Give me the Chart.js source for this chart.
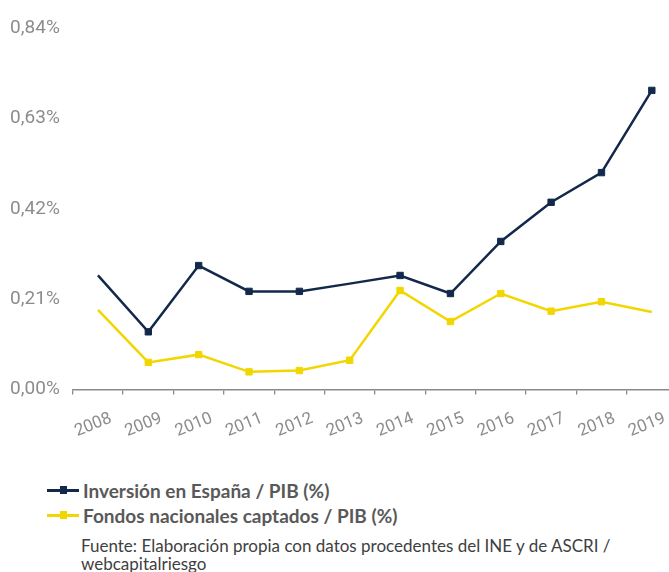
<!DOCTYPE html>
<html>
<head>
<meta charset="utf-8">
<script src="https://cdn.jsdelivr.net/npm/chart.js@4.4.1/dist/chart.umd.min.js"></script>
<style>
    body { margin: 0; width: 669px; height: 572px; overflow: hidden; background: #fff; position: relative; }
    #wrap { position: absolute; left: 0; top: 0; width: 700px; height: 470px; }
    .legend-row { position: absolute; left: 47px; height: 20px; display: flex; align-items: center;
        font-family: Lato, 'Noto Sans', sans-serif; font-weight: bold; font-size: 19px; color: #595959; white-space: nowrap; }
    .swatch { position: relative; width: 32px; height: 3px; margin-right: 4px; }
    .swatch i { position: absolute; left: 12.5px; top: -2.5px; width: 7px; height: 8px; }
    .source { position: absolute; left: 81px; top: 537px; font-family: Lato, 'Noto Sans', sans-serif;
        font-size: 17px; line-height: 18px; color: #404040; white-space: nowrap; }
</style>
</head>
<body>
<div id="wrap"><canvas id="pibChart" width="700" height="470"></canvas></div>

<div class="legend-row" style="top:480px"><span class="swatch" style="background:#13294b"><i style="background:#13294b"></i></span>Inversión en España / PIB (%)</div>
<div class="legend-row" style="top:505px"><span class="swatch" style="background:#f2d600"><i style="background:#f2d600"></i></span>Fondos nacionales captados / PIB (%)</div>
<div class="source">Fuente: Elaboración propia con datos procedentes del INE y de ASCRI /<br>webcapitalriesgo</div>

<script>
// --- Data ---
const years = ['2008', '2009', '2010', '2011', '2012', '2013', '2014', '2015', '2016', '2017', '2018', '2019'];
const inversionPib = [0.265, 0.134, 0.288, 0.228, 0.228, 0.246, 0.265, 0.223, 0.344, 0.435, 0.504, 0.695];
const fondosPib = [0.185, 0.063, 0.081, 0.041, 0.044, 0.068, 0.230, 0.158, 0.223, 0.182, 0.204, 0.180];
const yTicks = [0, 0.21, 0.42, 0.63, 0.84];

// points drawn without a marker in the original
const inversionNoMarker = [0, 5];
const fondosNoMarker = [0, 11];

const colorNavy = '#13294b';
const colorYellow = '#f2d600';
const labelFont = "Roboto, 'Liberation Sans', sans-serif";

const ctx = document.getElementById('pibChart').getContext('2d');

new Chart(ctx, {
    type: 'line',
    data: {
        labels: years,
        datasets: [
            {
                label: 'Inversión en España / PIB (%)',
                data: inversionPib,
                borderColor: colorNavy,
                backgroundColor: colorNavy,
                borderWidth: 2.5,
                tension: 0,
                pointStyle: 'rect',
                pointRadius: c => inversionNoMarker.includes(c.dataIndex) ? 0 : 4.5,
                pointBorderWidth: 1
            },
            {
                label: 'Fondos nacionales captados / PIB (%)',
                data: fondosPib,
                borderColor: colorYellow,
                backgroundColor: colorYellow,
                borderWidth: 2.5,
                tension: 0,
                pointStyle: 'rect',
                pointRadius: c => fondosNoMarker.includes(c.dataIndex) ? 0 : 4.5,
                pointBorderWidth: 1
            }
        ]
    },
    options: {
        responsive: false,
        animation: false,
        devicePixelRatio: 1,
        layout: { padding: { left: 0, top: 28, right: 23, bottom: 0 } },
        scales: {
            x: {
                offset: true,
                grid: { offset: true, drawOnChartArea: false, drawTicks: true, tickLength: 5, color: '#8a8a8a', lineWidth: 1.3 },
                border: { display: true, color: '#8a8a8a', width: 1.5 },
                ticks: {
                    color: '#8c8c8c',
                    font: { family: labelFont, size: 17 },
                    minRotation: 22,
                    maxRotation: 22,
                    autoSkip: false,
                    labelOffset: 13,
                    padding: 14
                },
                afterFit: scale => { scale.height = 470 - 389.5; }
            },
            y: {
                min: 0,
                max: 0.84,
                afterBuildTicks: scale => { scale.ticks = yTicks.map(v => ({ value: v })); },
                grid: { display: false, drawTicks: false },
                border: { display: false },
                ticks: {
                    color: '#8c8c8c',
                    font: { family: labelFont, size: 19 },
                    padding: 13,
                    callback: v => v.toFixed(2).replace('.', ',') + '%'
                },
                afterFit: scale => { scale.width = 72.8; }
            }
        },
        plugins: {
            legend: { display: false },
            tooltip: { enabled: false }
        }
    }
});
</script>
</body>
</html>
